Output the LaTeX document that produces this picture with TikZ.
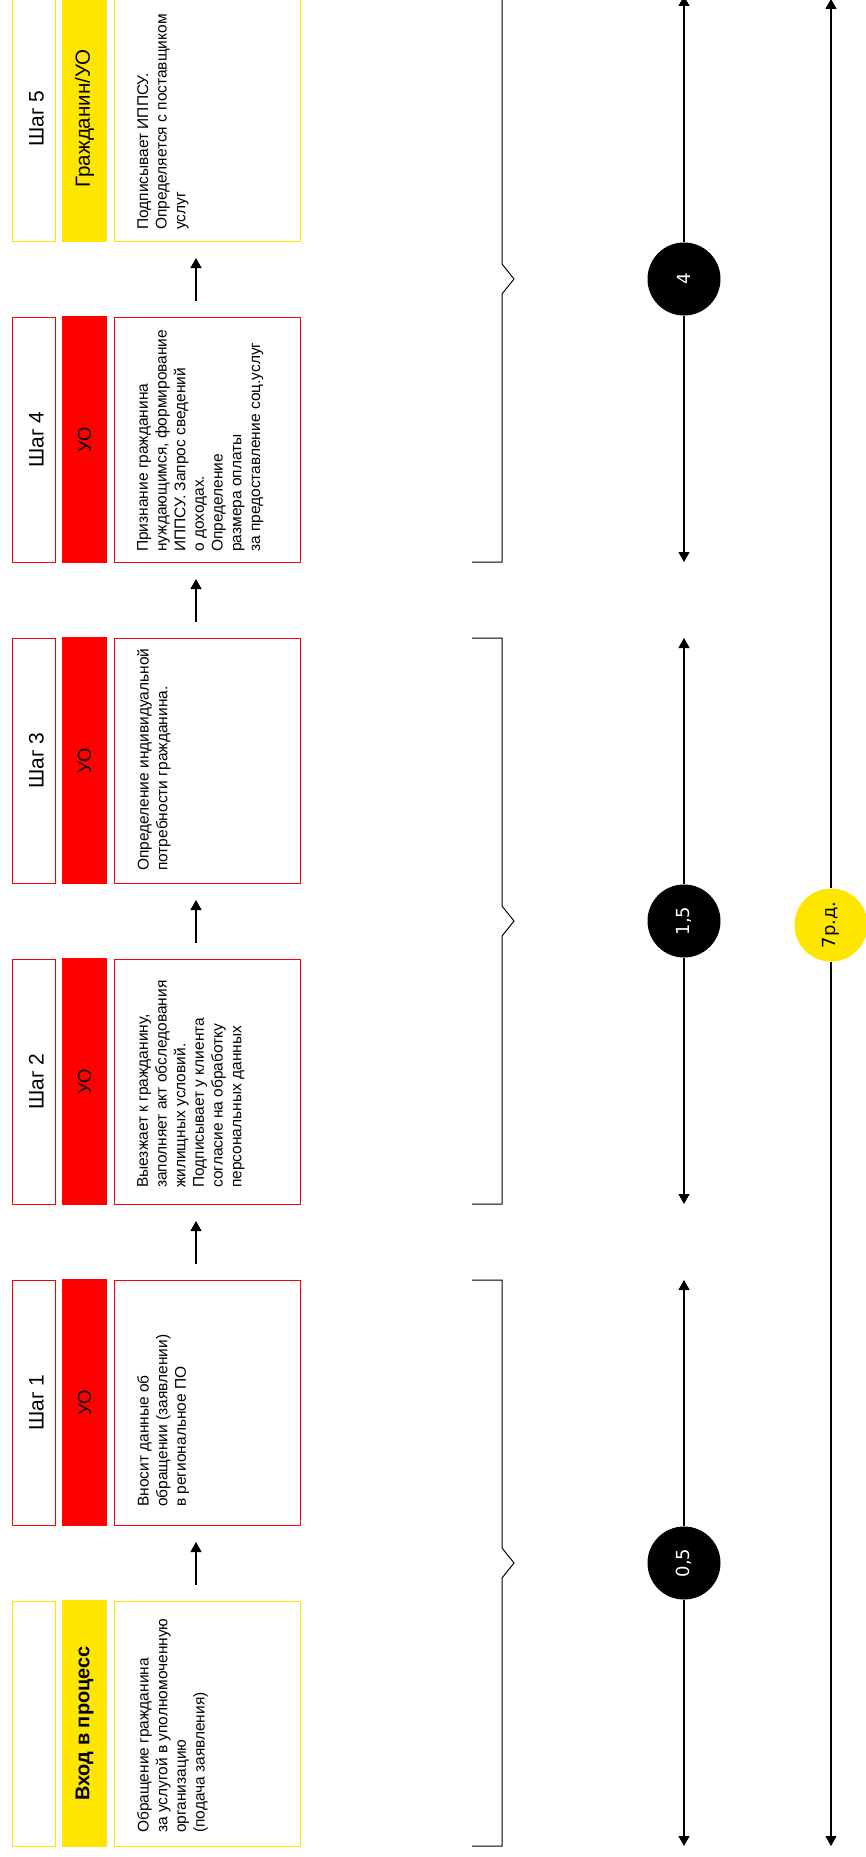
\documentclass[tikz,border=0pt]{standalone}
\usepackage{fontspec}
\setmainfont{Liberation Sans}
\newfontfamily\numfont{DejaVu Sans}
\usetikzlibrary{positioning,arrows.meta,calc}
\definecolor{syellow}{HTML}{FFE600}
\definecolor{sred}{HTML}{FF0000}

\begin{document}
\begin{tikzpicture}[x=1pt, y=-1pt,
  lbl/.style={draw=#1, line width=0.9pt, minimum width=43pt, minimum height=245pt, inner sep=0pt, outer sep=0pt},
  bar/.style={fill=#1, minimum width=45pt, minimum height=247pt, inner sep=0pt, outer sep=0pt},
  card/.style={draw=#1, line width=0.9pt, minimum width=186pt, minimum height=245pt, inner sep=0pt, outer sep=0pt},
  hd/.style={rotate=90, inner sep=0pt, font=\fontsize{21}{25}\selectfont},
  who/.style={rotate=90, inner sep=0pt, font=\fontsize{18.5}{22}\selectfont},
  txt/.style={rotate=90, anchor=north west, align=left, inner sep=0pt, font=\fontsize{15.5}{18.7}\selectfont},
  flow/.style={-{Triangle[length=10pt, width=11pt]}, line width=1.1pt},
  brk/.style={line width=1pt},
  num/.style={circle, rotate=90, fill=black, text=white, minimum size=73pt, inner sep=0pt, font=\numfont\fontsize{18}{22}\selectfont}]

\useasboundingbox (0,0) rectangle (865,1857);

% --- steps, built bottom-to-top ---
\node[lbl=syellow] (l0) at (33.5,1723.5) {};
\node[bar=syellow, right=7pt of l0] (b0) {};
\node[card=syellow, right=7pt of b0] (x0) {};

\node[lbl=sred, above=76pt of l0] (l1) {};
\node[bar=sred, right=7pt of l1] (b1) {};
\node[card=sred, right=7pt of b1] (x1) {};

\node[lbl=sred, above=76pt of l1] (l2) {};
\node[bar=sred, right=7pt of l2] (b2) {};
\node[card=sred, right=7pt of b2] (x2) {};

\node[lbl=sred, above=76pt of l2] (l3) {};
\node[bar=sred, right=7pt of l3] (b3) {};
\node[card=sred, right=7pt of b3] (x3) {};

\node[lbl=sred, above=76pt of l3] (l4) {};
\node[bar=sred, right=7pt of l4] (b4) {};
\node[card=sred, right=7pt of b4] (x4) {};

\node[lbl=syellow, above=76pt of l4] (l5) {};
\node[bar=syellow, right=7pt of l5] (b5) {};
\node[card=syellow, right=7pt of b5] (x5) {};

% step titles and actors
\node[hd] (h1) at ($(l1)+(3,0)$) {Шаг 1};
\node[hd] (h2) at ($(l2)+(3,0)$) {Шаг 2};
\node[hd] (h3) at ($(l3)+(3,0)$) {Шаг 3};
\node[hd] (h4) at ($(l4)+(3,0)$) {Шаг 4};
\node[hd] (h5) at ($(l5)+(3,0)$) {Шаг 5};

\node[who, font=\fontsize{20}{24}\selectfont\bfseries] (w0) at (b0) {Вход в процесс};
\node[who] (w1) at (b1) {УО};
\node[who] (w2) at (b2) {УО};
\node[who] (w3) at (b3) {УО};
\node[who] (w4) at (b4) {УО};
\node[who, font=\fontsize{20.5}{24}\selectfont] (w5) at (b5) {Гражданин/УО};

% descriptions
\node[txt] (t0) at ($(x0.south west)+(23,-13)$)
  {Обращение гражданина\\за услугой в уполномоченную\\организацию\\(подача заявления)};
\node[txt] (t1) at ($(x1.south west)+(23,-18)$)
  {Вносит данные об\\обращении (заявлении)\\в региональное ПО};
\node[txt] (t2) at ($(x2.south west)+(23,-16)$)
  {Выезжает к гражданину,\\заполняет акт обследования\\жилищных условий.\\Подписывает у клиента\\согласие на обработку\\персональных данных};
\node[txt] (t3) at ($(x3.south west)+(23,-12)$)
  {Определение индивидуальной\\потребности гражданина.};
\node[txt] (t4) at ($(x4.south west)+(23,-10)$)
  {Признание гражданина\\нуждающимся, формирование\\ИППСУ. Запрос сведений\\о доходах.\\Определение\\размера оплаты\\за предоставление соц.услуг};
\node[txt] (t5) at ($(x5.south west)+(23,-11)$)
  {Подписывает ИППСУ.\\Определяется с поставщиком\\услуг};

% flow between steps
\draw[flow] ([xshift=-11pt, yshift=16pt]x0.north) -- ([xshift=-11pt, yshift=-17pt]x1.south);
\draw[flow] ([xshift=-11pt, yshift=16pt]x1.north) -- ([xshift=-11pt, yshift=-17pt]x2.south);
\draw[flow] ([xshift=-11pt, yshift=16pt]x2.north) -- ([xshift=-11pt, yshift=-17pt]x3.south);
\draw[flow] ([xshift=-11pt, yshift=16pt]x3.north) -- ([xshift=-11pt, yshift=-17pt]x4.south);
\draw[flow] ([xshift=-11pt, yshift=16pt]x4.north) -- ([xshift=-11pt, yshift=-17pt]x5.south);

% --- brackets grouping the steps ---
\draw[brk] (472,1280) -- (502,1280) -- (502,1548) -- (514,1563) -- (502,1578) -- (502,1846) -- (472,1846);
\draw[brk] (472,638) -- (502,638) -- (502,906) -- (514,921) -- (502,936) -- (502,1204) -- (472,1204);
\draw[brk] (472,-4) -- (502,-4) -- (502,264) -- (514,279) -- (502,294) -- (502,562) -- (472,562);

% --- durations ---
\coordinate (d0t) at (684,1280); \coordinate (d0b) at (684,1846);
\coordinate (d1t) at (684,638);  \coordinate (d1b) at (684,1204);
\coordinate (d2t) at (684,-4);   \coordinate (d2b) at (684,562);
\node[num] (n0) at (684,1563) {0,5};
\node[num] (n1) at (684,921) {1,5};
\node[num] (n2) at (684,279) {4};
\draw[flow] (n0) -- (d0t); \draw[flow] (n0) -- (d0b);
\draw[flow] (n1) -- (d1t); \draw[flow] (n1) -- (d1b);
\draw[flow] (n2) -- (d2t); \draw[flow] (n2) -- (d2b);

% total
\coordinate (tt) at (831,-1); \coordinate (tb) at (831,1846);
\node[num, fill=syellow, text=black] (nt) at (831,925) {7р.д.};
\draw[flow] (nt) -- (tt); \draw[flow] (nt) -- (tb);
\end{tikzpicture}
\end{document}
